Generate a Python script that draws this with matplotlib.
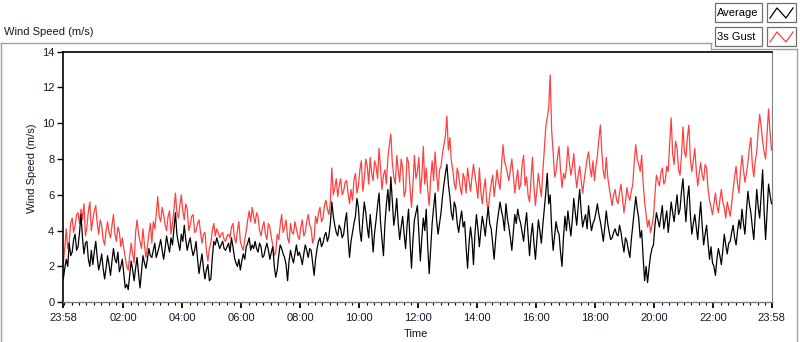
import numpy as np
import matplotlib.pyplot as plt
from matplotlib.lines import Line2D
from matplotlib.patches import Rectangle

plt.rcParams["font.family"] = ["Liberation Sans", "DejaVu Sans"]

W, H = 800, 342

# one sample every 3 minutes, 23:58 -> 23:58 next day (one row = one hour)
minutes = np.arange(0, 1441, 3)

gust = [
    2.2, 3.0, 4.1, 3.0, 3.4, 4.4, 4.7, 3.9, 4.3, 4.9, 5.0, 4.4, 5.2, 4.6, 5.5, 3.7, 4.2, 5.1, 5.6, 4.0,
    4.6, 5.1, 5.4, 4.4, 3.8, 4.6, 4.3, 3.5, 3.2, 4.0, 4.5, 3.9, 3.6, 4.3, 4.9, 3.8, 3.4, 4.2, 3.9, 3.1,
    3.6, 3.0, 2.5, 2.0, 1.8, 2.6, 3.3, 2.7, 2.2, 3.9, 4.6, 3.8, 3.4, 3.0, 4.1, 3.2, 2.5, 3.1, 3.8, 4.4,
    3.3, 4.5, 4.1, 4.9, 5.9, 4.8, 4.5, 5.3, 4.9, 4.3, 4.0, 4.8, 5.1, 3.8, 4.4, 5.2, 6.1, 5.0, 4.7, 5.4,
    6.0, 5.1, 4.6, 5.5, 5.2, 4.0, 4.3, 4.8, 4.9, 3.9, 4.0, 4.4, 4.6, 3.9, 3.3, 3.8, 3.9, 2.9, 2.3, 3.0,
    3.3, 4.0, 4.4, 3.7, 4.1, 3.9, 3.6, 3.8, 3.9, 3.5, 3.4, 3.7, 3.8, 3.6, 4.2, 4.4, 3.6, 3.3, 4.0, 4.5,
    3.4, 3.1, 2.9, 3.5, 4.0, 4.6, 5.1, 4.5, 5.3, 4.8, 4.4, 5.0, 4.8, 4.0, 3.7, 4.2, 4.5, 3.8, 3.5, 4.4,
    4.2, 3.6, 3.2, 2.6, 2.8, 3.8, 3.5, 4.3, 4.9, 3.9, 4.2, 4.6, 3.6, 3.3, 4.4, 3.9, 3.8, 4.5, 4.1, 3.7,
    3.5, 4.2, 4.6, 3.7, 3.9, 4.5, 4.9, 4.3, 4.1, 3.3, 3.6, 4.8, 4.4, 5.0, 5.3, 4.5, 4.7, 5.4, 5.7, 5.2,
    4.9, 5.6, 7.5, 6.0, 6.4, 6.9, 5.9, 6.5, 6.9, 6.0, 6.2, 6.7, 6.8, 6.1, 5.5, 6.3, 5.7, 6.8, 7.2, 6.1,
    6.5, 7.4, 7.9, 6.2, 6.9, 8.0, 7.6, 6.6, 8.1, 7.2, 6.8, 7.9, 7.6, 6.9, 8.6, 7.5, 6.3, 7.1, 7.4, 6.6,
    8.1, 8.8, 9.4, 7.8, 7.0, 6.6, 8.2, 7.4, 6.7, 8.0, 7.5, 5.9, 6.2, 8.1, 7.8, 6.4, 5.3, 6.6, 8.2, 6.9,
    7.3, 8.1, 6.1, 7.0, 8.7, 6.6, 7.5, 6.3, 5.4, 6.9, 7.9, 6.8, 8.4, 7.2, 6.2, 7.4, 7.6, 8.3, 8.8, 9.3,
    10.4, 8.5, 9.2, 7.9, 7.4, 6.6, 6.3, 7.5, 7.1, 6.4, 6.0, 7.2, 6.9, 6.1, 7.5, 6.8, 6.2, 7.0, 7.7, 7.1,
    6.5, 5.8, 7.5, 6.2, 5.5, 6.3, 6.9, 5.6, 5.1, 6.0, 6.6, 7.1, 5.9, 6.6, 7.4, 6.7, 6.3, 7.6, 8.8, 7.9,
    7.6, 7.2, 6.8, 7.4, 8.0, 7.1, 6.1, 6.8, 7.4, 6.3, 6.6, 7.7, 8.2, 6.5, 7.0, 6.0, 5.6, 6.9, 8.1, 6.4,
    5.4, 6.3, 7.2, 6.5, 5.9, 7.3, 8.5, 9.8, 10.3, 10.9, 12.7, 9.6, 8.4, 7.0, 7.3, 8.1, 8.7, 7.4, 6.4, 7.2,
    6.9, 7.5, 8.7, 7.8, 7.1, 7.6, 8.3, 7.2, 6.4, 7.1, 7.6, 6.8, 6.1, 6.8, 7.4, 8.0, 8.4, 7.5, 7.0, 7.9,
    6.8, 7.6, 8.2, 9.1, 9.9, 8.4, 7.3, 6.9, 8.1, 7.0, 6.4, 5.9, 5.4, 6.0, 6.3, 5.7, 5.5, 6.1, 6.6, 5.8,
    5.0, 5.6, 6.4, 5.9, 5.7, 6.2, 6.6, 7.9, 8.8, 8.0, 7.7, 7.3, 8.2, 6.7, 5.6, 4.9, 4.2, 4.6, 3.9, 4.3,
    4.8, 6.0, 7.1, 6.8, 6.5, 7.2, 7.5, 6.6, 6.8, 7.6, 7.3, 8.9, 10.3, 8.3, 7.7, 9.0, 8.6, 7.4, 7.1, 8.2,
    9.8, 8.4, 8.1, 9.2, 9.9, 8.0, 7.3, 7.9, 8.6, 7.4, 6.5, 7.2, 7.8, 7.1, 6.8, 7.7, 7.5, 6.3, 5.7, 5.3,
    4.9, 5.5, 6.1, 5.4, 5.0, 5.7, 6.3, 5.6, 5.3, 4.7, 5.6, 5.2, 4.8, 5.5, 6.3, 7.0, 7.6, 6.6, 6.1, 7.3,
    8.2, 7.4, 6.7, 7.2, 7.8, 8.6, 9.2, 7.7, 7.0, 7.9, 8.4, 9.6, 10.5, 9.8, 9.0, 8.4, 8.0, 9.4, 10.8, 9.5,
    8.5,
]

average = [
    1.3, 1.9, 2.4, 2.0, 3.3, 2.6, 2.8, 3.5, 3.8, 2.9, 3.1, 3.9, 4.9, 3.6, 2.7, 3.3, 3.4, 2.4, 2.0, 2.9,
    2.1, 2.8, 3.4, 2.5, 1.8, 2.2, 2.7, 1.9, 1.3, 1.9, 2.6, 2.1, 1.5, 2.3, 3.0, 2.4, 2.2, 2.8, 1.7, 2.0,
    2.4, 1.6, 0.8, 1.0, 0.7, 1.5, 2.3, 1.8, 1.2, 1.9, 2.5, 1.6, 0.8, 1.7, 2.6, 2.2, 1.9, 2.4, 3.0, 2.6,
    2.5, 2.9, 3.3, 2.5, 2.8, 3.1, 3.5, 2.9, 2.4, 3.0, 3.7, 3.2, 2.8, 3.6, 3.2, 4.1, 5.0, 3.8, 3.3, 2.9,
    3.8, 3.4, 4.3, 3.5, 2.9, 3.3, 3.6, 3.0, 2.6, 2.9, 3.4, 2.4, 1.6, 2.2, 2.7, 1.9, 1.3, 1.8, 2.1, 1.2,
    1.3, 2.5, 3.4, 3.2, 3.6, 3.3, 3.0, 3.2, 3.4, 3.0, 2.9, 3.1, 3.3, 2.8, 3.6, 3.1, 2.5, 2.2, 2.0, 2.4,
    1.8, 2.3, 2.7, 2.4, 3.1, 3.3, 3.6, 2.9, 3.2, 3.0, 3.4, 3.0, 2.8, 3.3, 3.1, 2.5, 2.6, 3.0, 3.3, 2.9,
    2.4, 2.8, 3.1, 2.0, 1.4, 1.8, 2.6, 3.2, 3.0, 2.7, 2.5, 2.1, 1.2, 2.3, 2.9, 2.5, 2.2, 2.7, 3.2, 2.6,
    2.8, 2.5, 2.1, 2.7, 3.2, 2.9, 2.5, 3.0, 2.9, 2.2, 1.5, 2.4, 3.0, 3.4, 3.6, 3.1, 3.3, 3.7, 3.9, 3.4,
    3.7, 4.4, 5.6, 4.8, 4.3, 3.9, 3.7, 4.3, 4.1, 3.6, 3.8, 4.5, 5.0, 3.6, 2.5, 3.4, 3.9, 4.4, 4.8, 5.8,
    5.3, 4.0, 3.4, 4.6, 5.6, 5.0, 4.2, 3.6, 4.9, 4.0, 2.8, 3.9, 4.6, 5.4, 6.1, 4.5, 3.5, 2.6, 4.4, 5.5,
    6.3, 5.1, 7.0, 5.6, 4.3, 4.9, 5.8, 4.4, 3.5, 4.2, 4.8, 3.8, 3.0, 4.3, 5.2, 3.4, 1.9, 3.5, 4.6, 5.0,
    5.4, 3.9, 2.3, 3.6, 4.7, 4.0, 5.2, 3.1, 1.6, 3.0, 4.4, 5.3, 6.1, 4.6, 3.8, 4.4, 5.0, 5.9, 6.6, 7.2,
    7.7, 6.6, 5.9, 5.0, 4.6, 5.6, 5.3, 4.4, 3.9, 4.6, 5.1, 4.2, 4.5, 3.1, 1.9, 3.3, 4.2, 3.5, 2.1, 3.8,
    4.9, 4.1, 3.1, 4.0, 4.8, 4.3, 3.7, 4.6, 5.3, 4.4, 4.1, 3.3, 2.4, 3.5, 4.4, 5.0, 5.6, 5.1, 4.7, 4.0,
    5.5, 4.7, 4.2, 3.6, 2.9, 3.9, 4.9, 4.4, 5.2, 4.7, 4.4, 3.9, 3.4, 4.3, 5.0, 3.8, 2.6, 3.7, 4.4, 3.3,
    2.4, 3.5, 4.6, 4.0, 3.3, 4.3, 5.2, 6.1, 7.2, 5.5, 6.0, 4.1, 2.9, 3.7, 4.5, 4.0, 3.8, 2.8, 2.0, 3.6,
    4.8, 4.0, 5.1, 4.4, 3.7, 4.6, 5.8, 5.0, 4.3, 5.4, 6.3, 5.1, 4.2, 4.6, 4.9, 4.1, 5.4, 4.6, 4.0, 4.4,
    4.6, 5.0, 5.5, 4.9, 4.5, 4.0, 3.4, 4.2, 5.1, 4.4, 3.9, 3.5, 3.6, 3.9, 4.1, 3.8, 3.7, 4.3, 3.9, 3.3,
    2.8, 3.6, 3.4, 2.9, 2.5, 3.5, 4.3, 5.1, 5.9, 5.2, 4.7, 3.6, 4.0, 2.5, 1.2, 2.0, 1.1, 1.9, 2.6, 3.0,
    3.2, 4.3, 5.0, 4.6, 4.2, 4.8, 5.4, 4.1, 4.6, 5.1, 3.9, 4.7, 5.6, 5.0, 4.5, 5.3, 6.0, 4.9, 5.2, 6.2,
    6.9, 5.6, 4.5, 5.8, 6.5, 4.9, 3.8, 4.4, 4.9, 4.2, 3.5, 4.6, 5.6, 4.3, 3.2, 3.8, 4.3, 3.3, 2.4, 3.1,
    2.2, 2.0, 1.5, 2.4, 3.0, 2.6, 2.1, 2.9, 3.8, 3.2, 2.7, 3.3, 3.4, 3.9, 4.3, 3.6, 3.2, 4.0, 4.6, 4.1,
    5.2, 4.4, 3.8, 5.1, 6.2, 5.5, 5.0, 4.2, 3.5, 4.9, 6.3, 5.3, 4.7, 6.0, 7.4, 5.1, 3.5, 5.0, 6.6, 6.0,
    5.5,
]

time_labels = ["23:58", "02:00", "04:00", "06:00", "08:00", "10:00", "12:00",
               "14:00", "16:00", "18:00", "20:00", "22:00", "23:58"]
time_ticks = [0, 122, 242, 362, 482, 602, 722, 842, 962, 1082, 1202, 1322, 1440]

text_col = "#14182c"
gust_col = "#ff4040"
frame_col = "#a0a0a0"

fig = plt.figure(figsize=(W / 100, H / 100), dpi=100)


def px_line(x0, y0, x1, y1, color=frame_col, lw=1.0):
    fig.add_artist(Line2D([x0 / W, x1 / W], [1 - y0 / H, 1 - y1 / H],
                          color=color, lw=lw, transform=fig.transFigure))


def px_box(x0, y0, x1, y1, edge="#707070"):
    fig.add_artist(Rectangle((x0 / W, 1 - y1 / H), (x1 - x0) / W, (y1 - y0) / H,
                             facecolor="white", edgecolor=edge, lw=0.9,
                             transform=fig.transFigure))


# outer LabVIEW-style frame
px_line(0.5, 42.5, 711, 42.5)
px_line(711, 42.5, 711, 48.5)
px_line(711, 48.5, 797, 48.5)
px_line(797, 48.5, 797, 342)
px_line(0.5, 42.5, 0.5, 342)

x0, x1, ytop, ybot = 63.3, 771.5, 51.7, 302.2
ax = fig.add_axes([x0 / W, 1 - ybot / H, (x1 - x0) / W, (ybot - ytop) / H])

ax.plot(minutes, gust, color=gust_col, lw=0.9)
ax.plot(minutes, average, color="black", lw=0.9)

ax.set_xlim(0, 1440)
ax.set_ylim(0, 14)
ax.set_yticks(range(0, 15, 2))
ax.set_xticks(time_ticks)
ax.set_xticklabels(time_labels)
ax.set_xticks(np.arange(2, 1440, 15), minor=True)

ax.tick_params(axis="y", direction="out", length=4, width=1, pad=2.5,
               labelsize=8, labelcolor=text_col)
ax.tick_params(axis="x", which="major", direction="out", length=4.5, width=1.3,
               pad=3, labelsize=8, labelcolor=text_col)
ax.tick_params(axis="x", which="minor", direction="out", length=2.5, width=0.8)

for side in ["top", "left"]:
    ax.spines[side].set_color("black")
    ax.spines[side].set_linewidth(1.2)
ax.spines["right"].set_color("#808080")
ax.spines["bottom"].set_color("#808080")
ax.spines["bottom"].set_linewidth(1.0)

fig.text(4 / W, 1 - 32 / H, "Wind Speed (m/s)", fontsize=8, color=text_col,
         ha="left", va="center")
fig.text(32 / W, 1 - 168 / H, "Wind Speed (m/s)", fontsize=8, color=text_col,
         rotation=90, ha="center", va="center")
fig.text(416 / W, 1 - 334 / H, "Time", fontsize=8, color=text_col,
         ha="center", va="center")

# legend
for i, (name, col) in enumerate([("Average", "black"), ("3s Gust", gust_col)]):
    top = 3 + 24 * i
    px_box(715, top, 762, top + 19)
    fig.text(717 / W, 1 - (top + 9.5) / H, name, fontsize=8, color="black",
             ha="left", va="center")
    px_box(767, top, 796, top + 19)
    gx = [770, 777, 786, 793]
    gy = [top + 15, top + 5, top + 15, top + 5]
    fig.add_artist(Line2D([g / W for g in gx], [1 - g / H for g in gy],
                          color=col, lw=0.9, transform=fig.transFigure))

fig.savefig("out.png", dpi=100)
